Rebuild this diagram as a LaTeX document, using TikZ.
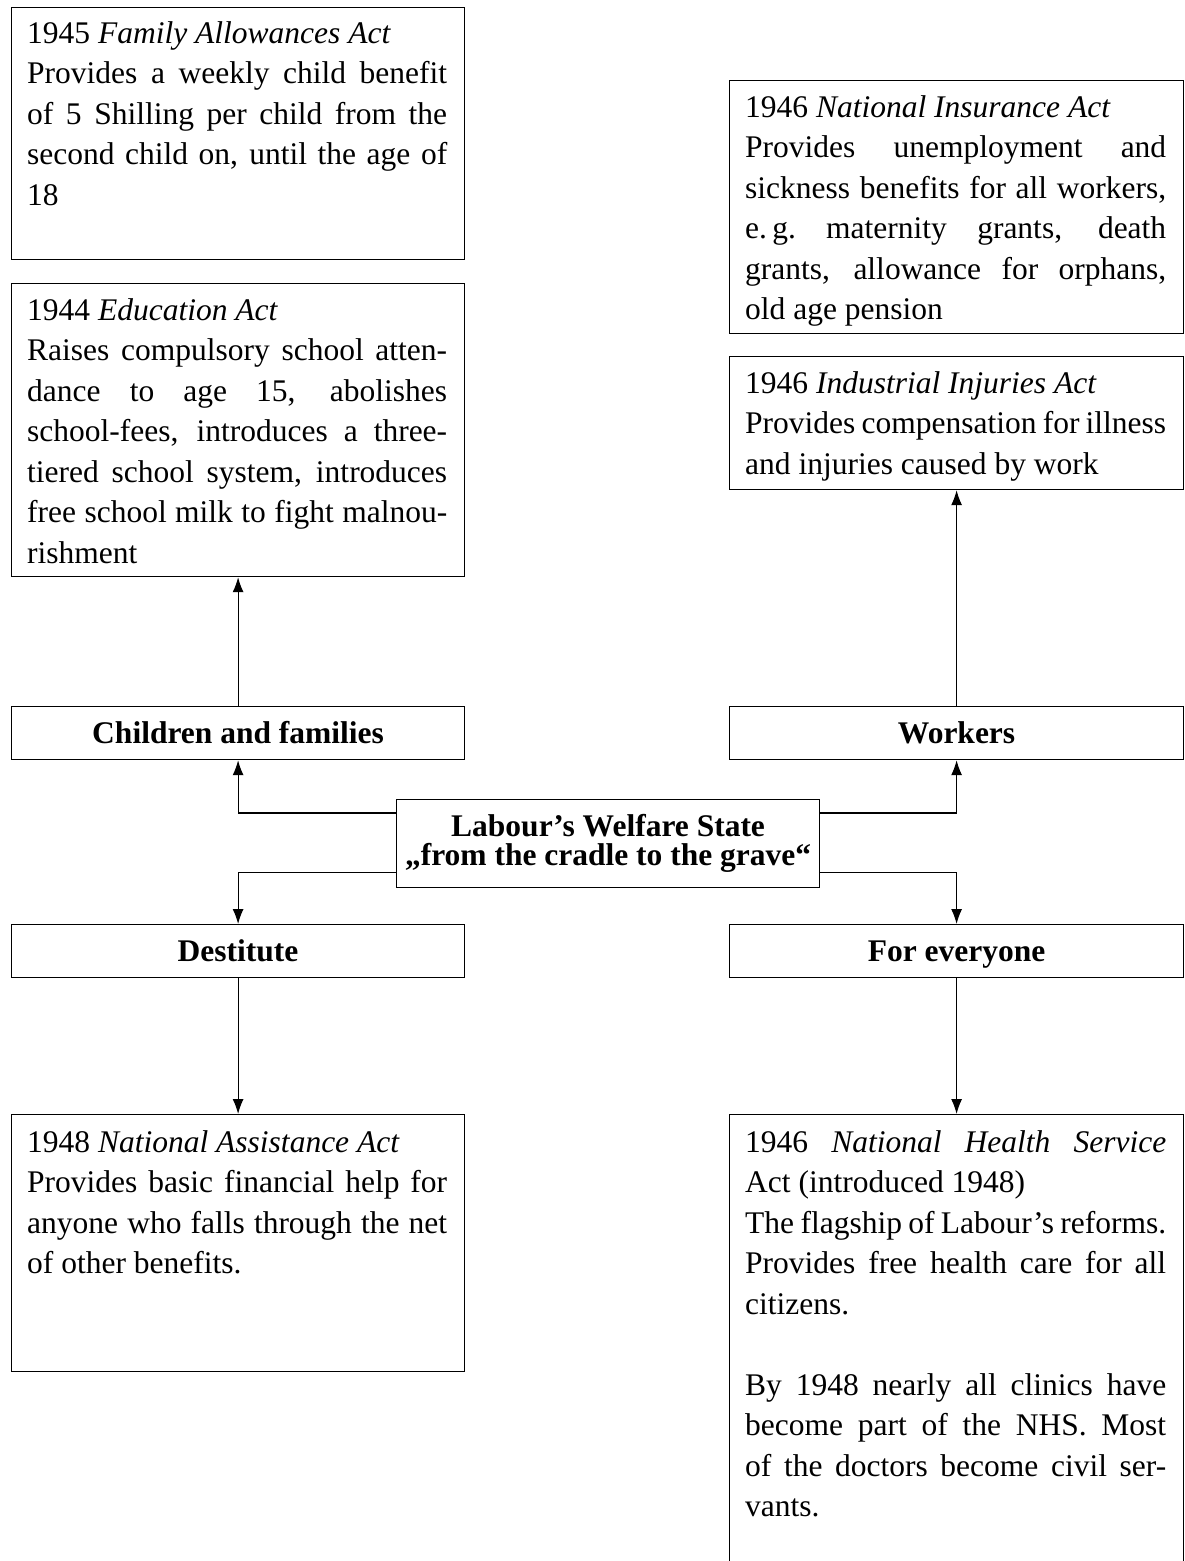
\documentclass[tikz,border=0pt]{standalone}
\usepackage{fontspec}
\setmainfont{Liberation Serif}
\usetikzlibrary{arrows.meta,calc}
\newcommand\jline[1]{\makebox[\linewidth][s]{#1}\\}
\begin{document}
\begin{tikzpicture}[x=1pt,y=-1pt,
  font=\fontsize{31.5}{40.5}\selectfont,
  box/.style={draw,line width=1.2pt,rectangle,inner sep=0pt,anchor=north west},
  lbl/.style={box,font=\fontsize{31.5}{40.5}\selectfont\bfseries,text height=22pt,text depth=1pt},
  txt/.style={anchor=base west,inner sep=0pt},
  arr/.style={line width=1.1pt,-{Latex[length=15pt,width=11pt]}}]
\useasboundingbox (0,0) rectangle (1184,1561);
\fill[white] (0,0) rectangle (1184,1561);
\clip (0,0) rectangle (1184,1561);

% boxes
\node[box,minimum width=453pt,minimum height=252pt] (fam) at (11,7) {};
\node[box,minimum width=453pt,minimum height=293pt] (edu) at (11,283) {};
\node[lbl,minimum width=453pt,minimum height=53pt] (child) at (11,706) {Children and families};
\node[lbl,minimum width=453pt,minimum height=53pt] (dest) at (11,924) {Destitute};
\node[box,minimum width=453pt,minimum height=257pt] (na) at (11,1114) {};

\node[box,minimum width=454pt,minimum height=253pt] (ni) at (729,80) {};
\node[box,minimum width=454pt,minimum height=133pt] (ii) at (729,356) {};
\node[lbl,minimum width=454pt,minimum height=53pt] (work) at (729,706) {Workers};
\node[lbl,minimum width=454pt,minimum height=53pt] (every) at (729,924) {For everyone};
\node[box,minimum width=454pt,minimum height=520pt] (nhs) at (729,1114) {};

\node[box,minimum width=423pt,minimum height=88pt,align=center,
  font=\fontsize{31.5}{28.5}\selectfont\bfseries] (center) at (396,799)
  {Labour’s Welfare State\\„from the cradle to the grave“};

% texts
\node[txt] (famtxt) at (27,43) {\parbox[t]{420pt}{%
1945 \textit{Family Allowances Act}\\
\jline{Provides a weekly child benefit}
\jline{of 5 Shilling per child from the}
\jline{second child on, until the age of}
18}};

\node[txt] (edutxt) at (27,320) {\parbox[t]{420pt}{%
1944 \textit{Education Act}\\
\jline{Raises compulsory school atten-}
\jline{dance to age 15, abolishes}
\jline{school-fees, introduces a three-}
\jline{tiered school system, introduces}
\jline{free school milk to fight malnou-}
rishment}};

\node[txt] (natxt) at (27,1152) {\parbox[t]{420pt}{%
1948 \textit{National Assistance Act}\\
\jline{Provides basic financial help for}
\jline{anyone who falls through the net}
of other benefits.}};

\node[txt] (nitxt) at (745,117) {\parbox[t]{421pt}{%
1946 \textit{National Insurance Act}\\
\jline{Provides unemployment and}
\jline{sickness benefits for all workers,}
\jline{e.\,g.\ maternity grants, death}
\jline{grants, allowance for orphans,}
old age pension}};

\node[txt] (iitxt) at (745,393) {\parbox[t]{421pt}{%
1946 \textit{Industrial Injuries Act}\\
\jline{Provides compensation for illness}
and injuries caused by work}};

\node[txt] (nhstxt) at (745,1152) {\parbox[t]{421pt}{%
\jline{1946 \textit{National Health Service}}
Act (introduced 1948)\\
\jline{The flagship of Labour’s reforms.}
\jline{Provides free health care for all}
citizens.\\
\mbox{}\\
\jline{By 1948 nearly all clinics have}
\jline{become part of the NHS.\ Most}
\jline{of the doctors become civil ser-}
vants.}};

% connectors
\draw[arr] ($(center.north west)+(0,14)$) -| (child.south);
\draw[arr] ($(center.south west)+(0,-16)$) -| (dest.north);
\draw[arr] ($(center.north east)+(0,14)$) -| (work.south);
\draw[arr] ($(center.south east)+(0,-16)$) -| (every.north);
\draw[arr] (child.north) -- (edu.south);
\draw[arr] (work.north) -- (ii.south);
\draw[arr] (dest.south) -- (na.north);
\draw[arr] (every.south) -- (nhs.north);
\end{tikzpicture}
\end{document}
